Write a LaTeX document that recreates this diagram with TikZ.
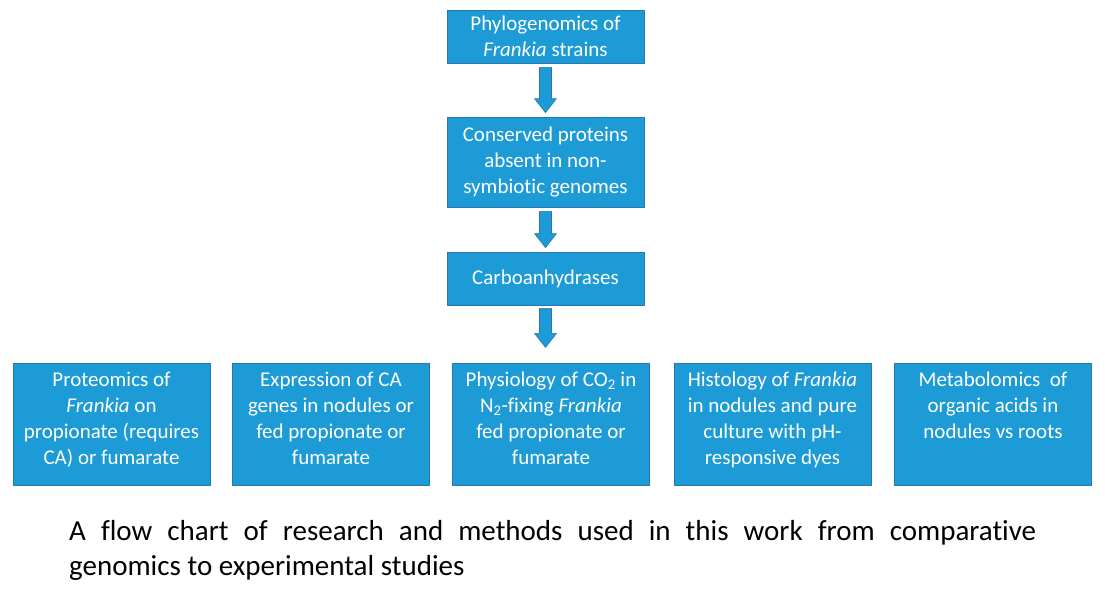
\documentclass[tikz,border=0pt]{standalone}
\usepackage{fontspec}
\setmainfont{Carlito}[Ligatures=NoCommon]
\usetikzlibrary{calc}
\definecolor{boxblue}{RGB}{28,155,215}
\definecolor{edgeblue}{RGB}{40,118,176}
% text of the bottom row starts at the top of its box
\newcommand{\toptext}[1]{\parbox[c][112pt][t]{190pt}{\centering\strut #1}}
\begin{document}
\begin{tikzpicture}[x=1pt, y=1pt, line join=round,
	box/.style={draw=edgeblue, line width=0.8pt, fill=boxblue, text=white, align=center,
		minimum width=197pt, inner sep=0pt, font=\fontsize{21}{26}\selectfont},
	blockarrow/.style={draw=edgeblue, line width=0.6pt, fill=boxblue}]
	\def\sw{6}   % half width of the shaft
	\def\hw{11}  % half width of the head
	\def\hl{14}  % length of the head
	\useasboundingbox (0,0) rectangle (1105,-599);
	\node[box, minimum height=53pt] (phylo) at (545.5,-36.5) {Phylogenomics of\\\textit{Frankia} strains};
	\node[box, minimum height=90pt] (cons) at (545.5,-162) {Conserved proteins\\absent in non-\\symbiotic genomes};
	\node[box, minimum height=53pt] (carbo) at (545.5,-278.5) {Carboanhydrases};
	\node[box, minimum height=122pt] (prot) at (111.5,-424) {\toptext{Proteomics of\\\textit{Frankia} on\\propionate (requires\\CA) or fumarate}};
	\node[box, minimum height=122pt] (expr) at (331,-424) {\toptext{Expression of CA\\genes in nodules or\\fed propionate or\\fumarate}};
	\node[box, minimum height=122pt] (phys) at (551,-424) {\toptext{Physiology of CO\textsubscript{2} in\\N\textsubscript{2}-fixing \textit{Frankia}\\fed propionate or\\fumarate}};
	\node[box, minimum height=122pt] (hist) at (772.5,-424) {\toptext{Histology of \textit{Frankia}\\in nodules and pure\\culture with pH-\\responsive dyes}};
	\node[box, minimum height=122pt] (meta) at (993,-424) {\toptext{Metabolomics~ of\\organic acids in\\nodules vs roots}};
	% block arrows between the boxes
	\foreach \a/\b in {phylo/cons, cons/carbo}{
		\path[blockarrow] ($(\a.south)+(-\sw,-4)$) -- ($(\b.north)+(-\sw,4+\hl)$) -- ($(\b.north)+(-\hw,4+\hl)$)
			-- ($(\b.north)+(0,4)$) -- ($(\b.north)+(\hw,4+\hl)$) -- ($(\b.north)+(\sw,4+\hl)$)
			-- ($(\a.south)+(\sw,-4)$) -- cycle;
	}
	\coordinate (tip) at ($(carbo.south)+(0,-42)$);
	\path[blockarrow] ($(carbo.south)+(-\sw,-3)$) -- ($(tip)+(-\sw,\hl)$) -- ($(tip)+(-\hw,\hl)$)
		-- (tip) -- ($(tip)+(\hw,\hl)$) -- ($(tip)+(\sw,\hl)$) -- ($(carbo.south)+(\sw,-3)$) -- cycle;
	\node[anchor=north west, inner sep=0pt, text width=967pt, align=justify,
		font=\fontsize{29}{35}\selectfont] (caption) at (69,-520)
		{A flow chart of research and methods used in this work from comparative\linebreak genomics to experimental studies};
\end{tikzpicture}
\end{document}
